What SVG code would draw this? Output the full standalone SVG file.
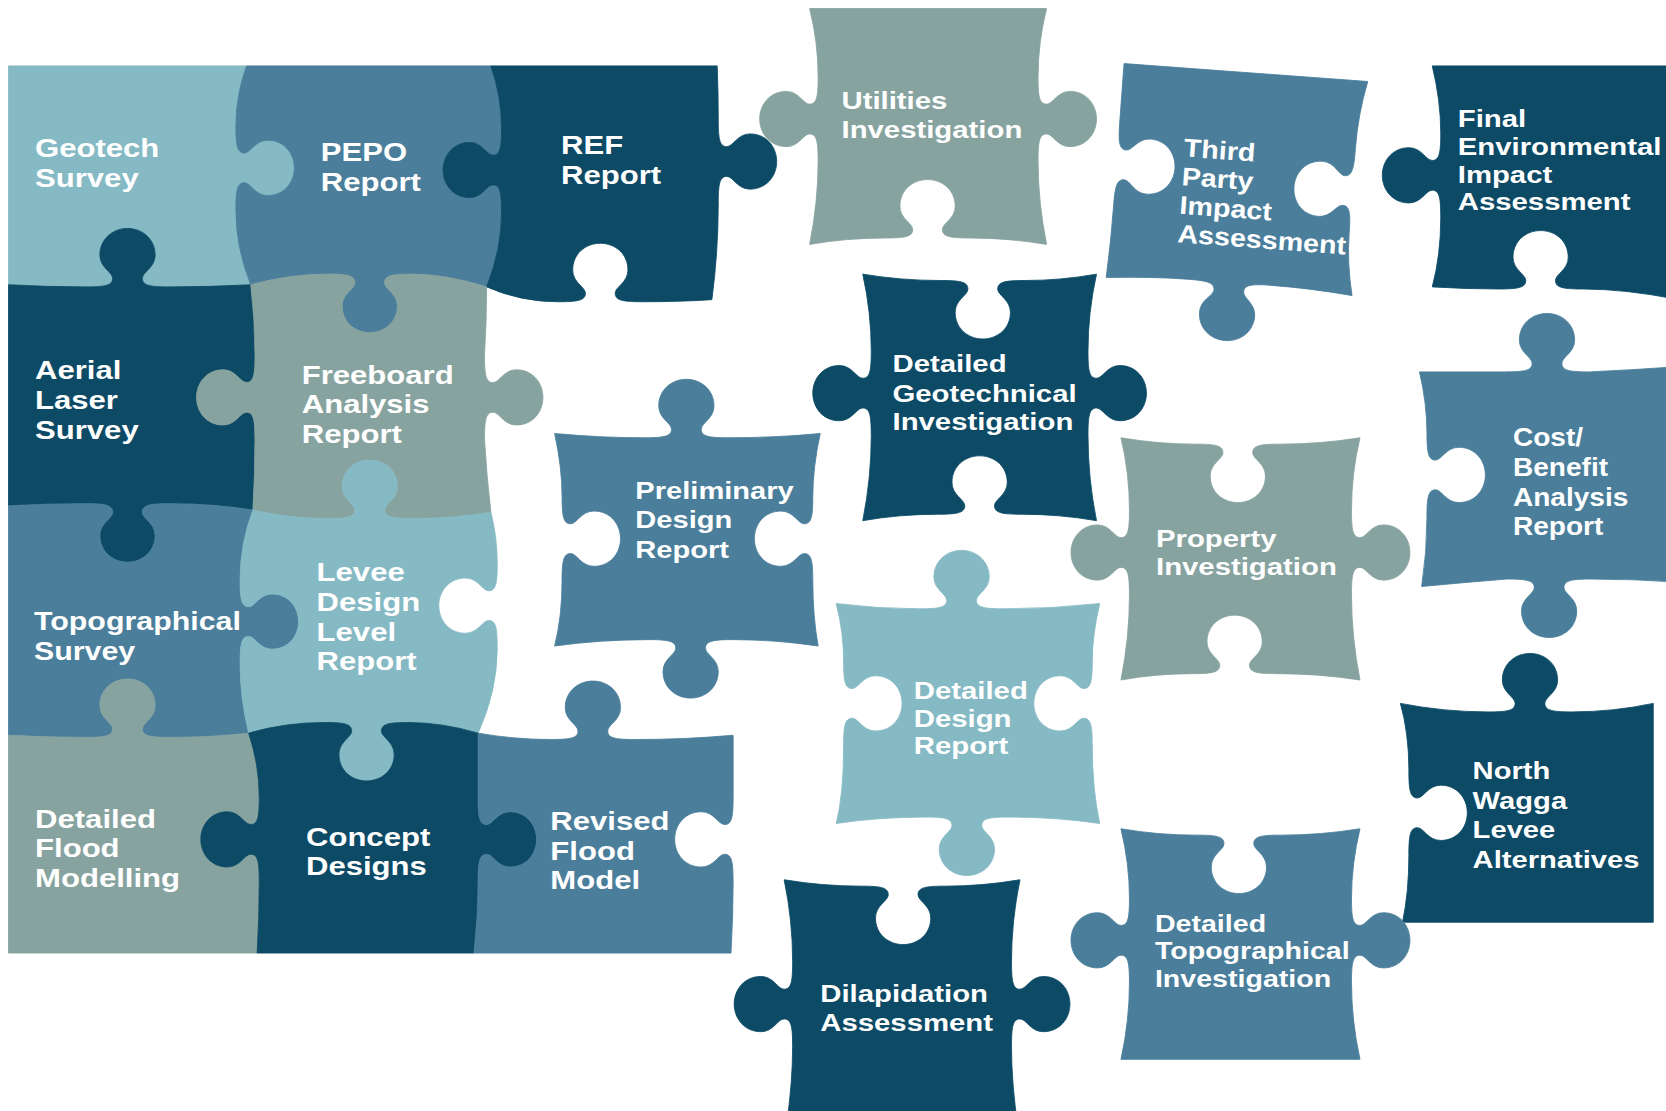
<svg xmlns="http://www.w3.org/2000/svg" width="1666" height="1111" viewBox="0 0 1666 1111">
<style>
.t{font-family:"Liberation Sans",Arial,Helvetica,sans-serif;font-weight:bold;font-size:25px;fill:#ffffff}
.f{font-family:"Liberation Sans",Arial,Helvetica,sans-serif;font-weight:bold;font-size:23px;fill:#ffffff}
path{stroke-width:0.8;stroke-linejoin:round}
.lt{fill:#85b9c4;stroke:#85b9c4}
.mb{fill:#4a7e9b;stroke:#4a7e9b}
.dk{fill:#0c4a65;stroke:#0c4a65}
.gr{fill:#87a39f;stroke:#87a39f}
</style>
<rect width="1666" height="1111" fill="#ffffff"/>
<g transform="scale(1.0625)">
<g id="geotech-survey">
<path class="lt" d="M8,62 L232,62 Q222,90 222,118 c0,18 1,26 8,26 c6,0 10,-12 22,-12 c15,0 25,12 25,26 c0,14 -10,26 -25,26 c-12,0 -16,-12 -22,-12 c-7,0 -8,8 -8,26 Q222,233 236,268 Q198,270 160,270 c-18,0 -26,-1 -26,-8 c0,-6 12,-10 12,-22 c0,-15 -12,-25 -26,-25 c-14,0 -26,10 -26,25 c0,12 12,16 12,22 c0,7 -8,8 -26,8 Q44,270 8,268 Z"/>
<text class="t" transform="translate(33 0) scale(1.17 1) translate(-33 0)"><tspan x="33" y="148">Geotech</tspan><tspan x="33" y="176">Survey</tspan></text>
</g>
<g id="pepo-report">
<path class="mb" d="M232,62 L462,62 Q472,91 472,120 c0,18 -1,26 -8,26 c-6,0 -10,-12 -22,-12 c-15,0 -25,12 -25,26 c0,14 10,26 25,26 c12,0 16,-12 22,-12 c7,0 8,8 8,26 Q472,235 458,270 Q420,258 388,258 c-18,0 -26,1 -26,8 c0,6 12,10 12,22 c0,15 -12,25 -26,25 c-14,0 -26,-10 -26,-25 c0,-12 12,-16 12,-22 c0,-7 -8,-8 -26,-8 Q272,258 236,268 Q222,233 222,198 c0,-18 1,-26 8,-26 c6,0 10,12 22,12 c15,0 25,-12 25,-26 c0,-14 -10,-26 -25,-26 c-12,0 -16,12 -22,12 c-7,0 -8,-8 -8,-26 Q222,90 232,62 Z"/>
<text class="t" transform="translate(302 0) scale(1.17 1) translate(-302 0)"><tspan x="302" y="152">PEPO</tspan><tspan x="302" y="180">Report</tspan></text>
</g>
<g id="ref-report">
<path class="dk" d="M462,62 L675,62 Q676,87 676,112 c0,18 1,26 8,26 c6,0 10,-12 22,-12 c15,0 25,12 25,26 c0,14 -10,26 -25,26 c-12,0 -16,-12 -22,-12 c-7,0 -8,8 -8,26 Q676,237 670,282 Q640,284 605,284 c-18,0 -26,-1 -26,-8 c0,-6 12,-10 12,-22 c0,-15 -12,-25 -26,-25 c-14,0 -26,10 -26,25 c0,12 12,16 12,22 c0,7 -8,8 -26,8 Q490,284 458,270 Q472,235 472,200 c0,-18 -1,-26 -8,-26 c-6,0 -10,12 -22,12 c-15,0 -25,-12 -25,-26 c0,-14 10,-26 25,-26 c12,0 16,12 22,12 c7,0 8,-8 8,-26 Q472,91 462,62 Z"/>
<text class="t" transform="translate(528 0) scale(1.17 1) translate(-528 0)"><tspan x="528" y="145">REF</tspan><tspan x="528" y="173">Report</tspan></text>
</g>
<g id="aerial-laser-survey">
<path class="dk" d="M8,268 Q44,270 80,270 c18,0 26,-1 26,-8 c0,-6 -12,-10 -12,-22 c0,-15 12,-25 26,-25 c14,0 26,10 26,25 c0,12 -12,16 -12,22 c0,7 8,8 26,8 Q198,270 236,268 Q240,301 240,334 c0,18 -1,26 -8,26 c-6,0 -10,-12 -22,-12 c-15,0 -25,12 -25,26 c0,14 10,26 25,26 c12,0 16,-12 22,-12 c7,0 8,8 8,26 Q240,447 238,480 Q200,474 160,474 c-18,0 -26,1 -26,8 c0,6 12,10 12,22 c0,15 -12,25 -26,25 c-14,0 -26,-10 -26,-25 c0,-12 12,-16 12,-22 c0,-7 -8,-8 -26,-8 Q44,474 8,476 Z"/>
<text class="t" transform="translate(33 0) scale(1.17 1) translate(-33 0)"><tspan x="33" y="357">Aerial</tspan><tspan x="33" y="385">Laser</tspan><tspan x="33" y="413">Survey</tspan></text>
</g>
<g id="freeboard-analysis-report">
<path class="gr" d="M236,268 Q272,258 308,258 c18,0 26,1 26,8 c0,6 -12,10 -12,22 c0,15 12,25 26,25 c14,0 26,-10 26,-25 c0,-12 -12,-16 -12,-22 c0,-7 8,-8 26,-8 Q420,258 458,270 Q458,302 456,334 c0,18 1,26 8,26 c6,0 10,-12 22,-12 c15,0 25,12 25,26 c0,14 -10,26 -25,26 c-12,0 -16,-12 -22,-12 c-7,0 -8,8 -8,26 Q458,448 462,482 Q428,488 388,488 c-18,0 -26,-1 -26,-8 c0,-6 12,-10 12,-22 c0,-15 -12,-25 -26,-25 c-14,0 -26,10 -26,25 c0,12 12,16 12,22 c0,7 -8,8 -26,8 Q272,488 238,480 Q240,447 240,414 c0,-18 -1,-26 -8,-26 c-6,0 -10,12 -22,12 c-15,0 -25,-12 -25,-26 c0,-14 10,-26 25,-26 c12,0 16,12 22,12 c7,0 8,-8 8,-26 Q240,301 236,268 Z"/>
<text class="t" transform="translate(284 0) scale(1.17 1) translate(-284 0)"><tspan x="284" y="361">Freeboard</tspan><tspan x="284" y="389">Analysis</tspan><tspan x="284" y="417">Report</tspan></text>
</g>
<g id="topographical-survey">
<path class="mb" d="M8,476 Q44,474 80,474 c18,0 26,1 26,8 c0,6 -12,10 -12,22 c0,15 12,25 26,25 c14,0 26,-10 26,-25 c0,-12 -12,-16 -12,-22 c0,-7 8,-8 26,-8 Q200,474 238,480 Q226,512 226,545 c0,18 1,26 8,26 c6,0 10,-12 22,-12 c15,0 25,12 25,26 c0,14 -10,26 -25,26 c-12,0 -16,-12 -22,-12 c-7,0 -8,8 -8,26 Q226,657 234,690 Q198,694 160,694 c-18,0 -26,-1 -26,-8 c0,-6 12,-10 12,-22 c0,-15 -12,-25 -26,-25 c-14,0 -26,10 -26,25 c0,12 12,16 12,22 c0,7 -8,8 -26,8 Q44,694 8,692 Z"/>
<text class="t" transform="translate(32 0) scale(1.144 1) translate(-32 0)"><tspan x="32" y="593">Topographical</tspan><tspan x="32" y="621">Survey</tspan></text>
</g>
<g id="levee-design-level-report">
<path class="lt" d="M238,480 Q272,488 308,488 c18,0 26,-1 26,-8 c0,-6 -12,-10 -12,-22 c0,-15 12,-25 26,-25 c14,0 26,10 26,25 c0,12 -12,16 -12,22 c0,7 8,8 26,8 Q428,488 462,482 Q468,506 468,530 c0,18 -1,26 -8,26 c-6,0 -10,-12 -22,-12 c-15,0 -25,12 -25,26 c0,14 10,26 25,26 c12,0 16,-12 22,-12 c7,0 8,8 8,26 Q468,650 450,690 Q416,680 385,680 c-18,0 -26,1 -26,8 c0,6 12,10 12,22 c0,15 -12,25 -26,25 c-14,0 -26,-10 -26,-25 c0,-12 12,-16 12,-22 c0,-7 -8,-8 -26,-8 Q268,680 234,690 Q226,657 226,625 c0,-18 1,-26 8,-26 c6,0 10,12 22,12 c15,0 25,-12 25,-26 c0,-14 -10,-26 -25,-26 c-12,0 -16,12 -22,12 c-7,0 -8,-8 -8,-26 Q226,512 238,480 Z"/>
<text class="t" transform="translate(298 0) scale(1.17 1) translate(-298 0)"><tspan x="298" y="547">Levee</tspan><tspan x="298" y="575">Design</tspan><tspan x="298" y="603">Level</tspan><tspan x="298" y="631">Report</tspan></text>
</g>
<g id="detailed-flood-modelling">
<path class="gr" d="M8,692 Q44,694 80,694 c18,0 26,-1 26,-8 c0,-6 -12,-10 -12,-22 c0,-15 12,-25 26,-25 c14,0 26,10 26,25 c0,12 -12,16 -12,22 c0,7 8,8 26,8 Q198,694 234,690 Q244,720 244,750 c0,18 -1,26 -8,26 c-6,0 -10,-12 -22,-12 c-15,0 -25,12 -25,26 c0,14 10,26 25,26 c12,0 16,-12 22,-12 c7,0 8,8 8,26 Q244,863 242,897 L8,897 Z"/>
<text class="t" transform="translate(33 0) scale(1.17 1) translate(-33 0)"><tspan x="33" y="779">Detailed</tspan><tspan x="33" y="807">Flood</tspan><tspan x="33" y="835">Modelling</tspan></text>
</g>
<g id="concept-designs">
<path class="dk" d="M234,690 Q268,680 305,680 c18,0 26,1 26,8 c0,6 -12,10 -12,22 c0,15 12,25 26,25 c14,0 26,-10 26,-25 c0,-12 -12,-16 -12,-22 c0,-7 8,-8 26,-8 Q416,680 450,690 Q450,720 450,750 c0,18 1,26 8,26 c6,0 10,-12 22,-12 c15,0 25,12 25,26 c0,14 -10,26 -25,26 c-12,0 -16,-12 -22,-12 c-7,0 -8,8 -8,26 Q450,863 446,897 L242,897 Q244,863 244,830 c0,-18 -1,-26 -8,-26 c-6,0 -10,12 -22,12 c-15,0 -25,-12 -25,-26 c0,-14 10,-26 25,-26 c12,0 16,12 22,12 c7,0 8,-8 8,-26 Q244,720 234,690 Z"/>
<text class="t" transform="translate(288 0) scale(1.17 1) translate(-288 0)"><tspan x="288" y="796">Concept</tspan><tspan x="288" y="824">Designs</tspan></text>
</g>
<g id="revised-flood-model">
<path class="mb" d="M450,690 Q484,696 518,696 c18,0 26,-1 26,-8 c0,-6 -12,-10 -12,-22 c0,-15 12,-25 26,-25 c14,0 26,10 26,25 c0,12 -12,16 -12,22 c0,7 8,8 26,8 Q645,696 690,692 Q690,721 690,750 c0,18 -1,26 -8,26 c-6,0 -10,-12 -22,-12 c-15,0 -25,12 -25,26 c0,14 10,26 25,26 c12,0 16,-12 22,-12 c7,0 8,8 8,26 Q690,863 688,897 L446,897 Q450,863 450,830 c0,-18 1,-26 8,-26 c6,0 10,12 22,12 c15,0 25,-12 25,-26 c0,-14 -10,-26 -25,-26 c-12,0 -16,12 -22,12 c-7,0 -8,-8 -8,-26 Q450,720 450,690 Z"/>
<text class="t" transform="translate(518 0) scale(1.17 1) translate(-518 0)"><tspan x="518" y="781">Revised</tspan><tspan x="518" y="809">Flood</tspan><tspan x="518" y="837">Model</tspan></text>
</g>
<g id="utilities-investigation">
<path class="gr" d="M762,8 L985,8 Q977,40 977,72 c0,18 1,26 8,26 c6,0 10,-12 22,-12 c15,0 25,12 25,26 c0,14 -10,26 -25,26 c-12,0 -16,-12 -22,-12 c-7,0 -8,8 -8,26 Q977,190 985,230 Q949,224 913,224 c-18,0 -26,-1 -26,-8 c0,-6 12,-10 12,-22 c0,-15 -12,-25 -26,-25 c-14,0 -26,10 -26,25 c0,12 12,16 12,22 c0,7 -8,8 -26,8 Q797,224 762,230 Q770,190 770,152 c0,-18 -1,-26 -8,-26 c-6,0 -10,12 -22,12 c-15,0 -25,-12 -25,-26 c0,-14 10,-26 25,-26 c12,0 16,12 22,12 c7,0 8,-8 8,-26 Q770,40 762,8 Z"/>
<text class="f" transform="translate(792 0) scale(1.2 1) translate(-792 0)"><tspan x="792" y="103">Utilities</tspan><tspan x="792" y="130">Investigation</tspan></text>
</g>
<g id="third-party-impact-assessment" transform="rotate(4.2 1165 172)">
<path class="mb" d="M1050,68 L1280,68 Q1273,100 1273,132 c0,18 -1,26 -8,26 c-6,0 -10,-12 -22,-12 c-15,0 -25,12 -25,26 c0,14 10,26 25,26 c12,0 16,-12 22,-12 c7,0 8,8 8,26 Q1273,240 1280,270 Q1240,266 1204,266 c-18,0 -26,1 -26,8 c0,6 12,10 12,22 c0,15 -12,25 -26,25 c-14,0 -26,-10 -26,-25 c0,-12 12,-16 12,-22 c0,-7 -8,-8 -26,-8 Q1090,266 1048,270 Q1050,235 1050,203 c0,-18 1,-26 8,-26 c6,0 10,12 22,12 c15,0 25,-12 25,-26 c0,-14 -10,-26 -25,-26 c-12,0 -16,12 -22,12 c-7,0 -8,-8 -8,-26 Q1050,95 1050,68 Z"/>
<text class="f" style="font-size:24px" transform="translate(1112 0) scale(1.125 1) translate(-1112 0)"><tspan x="1112" y="151">Third</tspan><tspan x="1112" y="178">Party</tspan><tspan x="1112" y="205">Impact</tspan><tspan x="1112" y="232">Assessment</tspan></text>
</g>
<g id="final-environmental-impact-assessment">
<path class="dk" d="M1348,62 L1580,62 L1580,282 Q1530,272 1490,272 c-18,0 -26,-1 -26,-8 c0,-6 12,-10 12,-22 c0,-15 -12,-25 -26,-25 c-14,0 -26,10 -26,25 c0,12 12,16 12,22 c0,7 -8,8 -26,8 Q1380,272 1348,270 Q1356,240 1356,205 c0,-18 -1,-26 -8,-26 c-6,0 -10,12 -22,12 c-15,0 -25,-12 -25,-26 c0,-14 10,-26 25,-26 c12,0 16,12 22,12 c7,0 8,-8 8,-26 Q1356,95 1348,62 Z"/>
<text class="f" transform="translate(1372 0) scale(1.2 1) translate(-1372 0)"><tspan x="1372" y="120">Final</tspan><tspan x="1372" y="146">Environmental</tspan><tspan x="1372" y="172">Impact</tspan><tspan x="1372" y="198">Assessment</tspan></text>
</g>
<g id="detailed-geotechnical-investigation">
<path class="dk" d="M812,258 Q848,264 885,264 c18,0 26,1 26,8 c0,6 -12,10 -12,22 c0,15 12,25 26,25 c14,0 26,-10 26,-25 c0,-12 -12,-16 -12,-22 c0,-7 8,-8 26,-8 Q998,264 1032,258 Q1024,294 1024,330 c0,18 1,26 8,26 c6,0 10,-12 22,-12 c15,0 25,12 25,26 c0,14 -10,26 -25,26 c-12,0 -16,-12 -22,-12 c-7,0 -8,8 -8,26 Q1024,450 1032,490 Q997,484 962,484 c-18,0 -26,-1 -26,-8 c0,-6 12,-10 12,-22 c0,-15 -12,-25 -26,-25 c-14,0 -26,10 -26,25 c0,12 12,16 12,22 c0,7 -8,8 -26,8 Q847,484 812,490 Q820,450 820,410 c0,-18 -1,-26 -8,-26 c-6,0 -10,12 -22,12 c-15,0 -25,-12 -25,-26 c0,-14 10,-26 25,-26 c12,0 16,12 22,12 c7,0 8,-8 8,-26 Q820,294 812,258 Z"/>
<text class="f" transform="translate(840 0) scale(1.2 1) translate(-840 0)"><tspan x="840" y="350">Detailed</tspan><tspan x="840" y="378">Geotechnical</tspan><tspan x="840" y="405">Investigation</tspan></text>
</g>
<g id="cost-benefit-analysis-report">
<path class="mb" d="M1336,350 Q1376,350 1416,350 c18,0 26,-1 26,-8 c0,-6 -12,-10 -12,-22 c0,-15 12,-25 26,-25 c14,0 26,10 26,25 c0,12 -12,16 -12,22 c0,7 8,8 26,8 Q1540,348 1580,345 L1580,548 Q1540,545 1498,545 c-18,0 -26,1 -26,8 c0,6 12,10 12,22 c0,15 -12,25 -26,25 c-14,0 -26,-10 -26,-25 c0,-12 12,-16 12,-22 c0,-7 -8,-8 -26,-8 Q1380,548 1338,552 Q1343,520 1343,487 c0,-18 1,-26 8,-26 c6,0 10,12 22,12 c15,0 25,-12 25,-26 c0,-14 -10,-26 -25,-26 c-12,0 -16,12 -22,12 c-7,0 -8,-8 -8,-26 Q1343,380 1336,350 Z"/>
<text class="f" style="font-size:24px" transform="translate(1424 0) scale(1.1 1) translate(-1424 0)"><tspan x="1424" y="420">Cost/</tspan><tspan x="1424" y="448">Benefit</tspan><tspan x="1424" y="476">Analysis</tspan><tspan x="1424" y="504">Report</tspan></text>
</g>
<g id="preliminary-design-report">
<path class="mb" d="M522,408 Q565,412 606,412 c18,0 26,-1 26,-8 c0,-6 -12,-10 -12,-22 c0,-15 12,-25 26,-25 c14,0 26,10 26,25 c0,12 -12,16 -12,22 c0,7 8,8 26,8 Q730,412 772,408 Q765,440 765,467 c0,18 -1,26 -8,26 c-6,0 -10,-12 -22,-12 c-15,0 -25,12 -25,26 c0,14 10,26 25,26 c12,0 16,-12 22,-12 c7,0 8,8 8,26 Q765,580 770,608 Q730,602 690,602 c-18,0 -26,1 -26,8 c0,6 12,10 12,22 c0,15 -12,25 -26,25 c-14,0 -26,-10 -26,-25 c0,-12 12,-16 12,-22 c0,-7 -8,-8 -26,-8 Q565,602 522,608 Q529,580 529,547 c0,-18 1,-26 8,-26 c6,0 10,12 22,12 c15,0 25,-12 25,-26 c0,-14 -10,-26 -25,-26 c-12,0 -16,12 -22,12 c-7,0 -8,-8 -8,-26 Q529,440 522,408 Z"/>
<text class="f" transform="translate(598 0) scale(1.19 1) translate(-598 0)"><tspan x="598" y="470">Preliminary</tspan><tspan x="598" y="497">Design</tspan><tspan x="598" y="525">Report</tspan></text>
</g>
<g id="property-investigation">
<path class="gr" d="M1055,412 Q1090,418 1125,418 c18,0 26,1 26,8 c0,6 -12,10 -12,22 c0,15 12,25 26,25 c14,0 26,-10 26,-25 c0,-12 -12,-16 -12,-22 c0,-7 8,-8 26,-8 Q1243,418 1280,412 Q1272,445 1272,480 c0,18 1,26 8,26 c6,0 10,-12 22,-12 c15,0 25,12 25,26 c0,14 -10,26 -25,26 c-12,0 -16,-12 -22,-12 c-7,0 -8,8 -8,26 Q1272,600 1280,640 Q1241,634 1202,634 c-18,0 -26,-1 -26,-8 c0,-6 12,-10 12,-22 c0,-15 -12,-25 -26,-25 c-14,0 -26,10 -26,25 c0,12 12,16 12,22 c0,7 -8,8 -26,8 Q1088,634 1055,640 Q1063,600 1063,560 c0,-18 -1,-26 -8,-26 c-6,0 -10,12 -22,12 c-15,0 -25,-12 -25,-26 c0,-14 10,-26 25,-26 c12,0 16,12 22,12 c7,0 8,-8 8,-26 Q1063,445 1055,412 Z"/>
<text class="f" transform="translate(1088 0) scale(1.2 1) translate(-1088 0)"><tspan x="1088" y="515">Property</tspan><tspan x="1088" y="541">Investigation</tspan></text>
</g>
<g id="detailed-design-report">
<path class="lt" d="M787,568 Q826,573 865,573 c18,0 26,-1 26,-8 c0,-6 -12,-10 -12,-22 c0,-15 12,-25 26,-25 c14,0 26,10 26,25 c0,12 -12,16 -12,22 c0,7 8,8 26,8 Q990,573 1035,568 Q1028,598 1028,622 c0,18 -1,26 -8,26 c-6,0 -10,-12 -22,-12 c-15,0 -25,12 -25,26 c0,14 10,26 25,26 c12,0 16,-12 22,-12 c7,0 8,8 8,26 Q1028,742 1035,775 Q993,769 950,769 c-18,0 -26,1 -26,8 c0,6 12,10 12,22 c0,15 -12,25 -26,25 c-14,0 -26,-10 -26,-25 c0,-12 12,-16 12,-22 c0,-7 -8,-8 -26,-8 Q828,769 787,775 Q794,748 794,702 c0,-18 1,-26 8,-26 c6,0 10,12 22,12 c15,0 25,-12 25,-26 c0,-14 -10,-26 -25,-26 c-12,0 -16,12 -22,12 c-7,0 -8,-8 -8,-26 Q794,595 787,568 Z"/>
<text class="f" transform="translate(860 0) scale(1.2 1) translate(-860 0)"><tspan x="860" y="658">Detailed</tspan><tspan x="860" y="684">Design</tspan><tspan x="860" y="710">Report</tspan></text>
</g>
<g id="north-wagga-levee-alternatives">
<path class="dk" d="M1318,662 Q1359,670 1400,670 c18,0 26,-1 26,-8 c0,-6 -12,-10 -12,-22 c0,-15 12,-25 26,-25 c14,0 26,10 26,25 c0,12 -12,16 -12,22 c0,7 8,8 26,8 Q1518,670 1556,662 L1556,868 L1320,868 Q1326,840 1326,805 c0,-18 1,-26 8,-26 c6,0 10,12 22,12 c15,0 25,-12 25,-26 c0,-14 -10,-26 -25,-26 c-12,0 -16,12 -22,12 c-7,0 -8,-8 -8,-26 Q1326,690 1318,662 Z"/>
<text class="f" style="font-size:22.5px" transform="translate(1386 0) scale(1.22 1) translate(-1386 0)"><tspan x="1386" y="733">North</tspan><tspan x="1386" y="761">Wagga</tspan><tspan x="1386" y="789">Levee</tspan><tspan x="1386" y="817">Alternatives</tspan></text>
</g>
<g id="detailed-topographical-investigation">
<path class="mb" d="M1055,780 Q1090,786 1126,786 c18,0 26,1 26,8 c0,6 -12,10 -12,22 c0,15 12,25 26,25 c14,0 26,-10 26,-25 c0,-12 -12,-16 -12,-22 c0,-7 8,-8 26,-8 Q1243,786 1280,780 Q1272,813 1272,845 c0,18 1,26 8,26 c6,0 10,-12 22,-12 c15,0 25,12 25,26 c0,14 -10,26 -25,26 c-12,0 -16,-12 -22,-12 c-7,0 -8,8 -8,26 Q1272,961 1280,997 L1055,997 Q1063,961 1063,925 c0,-18 -1,-26 -8,-26 c-6,0 -10,12 -22,12 c-15,0 -25,-12 -25,-26 c0,-14 10,-26 25,-26 c12,0 16,12 22,12 c7,0 8,-8 8,-26 Q1063,813 1055,780 Z"/>
<text class="f" transform="translate(1087 0) scale(1.17 1) translate(-1087 0)"><tspan x="1087" y="877">Detailed</tspan><tspan x="1087" y="903">Topographical</tspan><tspan x="1087" y="929">Investigation</tspan></text>
</g>
<g id="dilapidation-assessment">
<path class="dk" d="M738,828 Q774,834 810,834 c18,0 26,1 26,8 c0,6 -12,10 -12,22 c0,15 12,25 26,25 c14,0 26,-10 26,-25 c0,-12 -12,-16 -12,-22 c0,-7 8,-8 26,-8 Q925,834 960,828 Q952,866 952,905 c0,18 1,26 8,26 c6,0 10,-12 22,-12 c15,0 25,12 25,26 c0,14 -10,26 -25,26 c-12,0 -16,-12 -22,-12 c-7,0 -8,8 -8,26 Q952,1020 958,1060 L740,1060 Q746,1020 746,985 c0,-18 -1,-26 -8,-26 c-6,0 -10,12 -22,12 c-15,0 -25,-12 -25,-26 c0,-14 10,-26 25,-26 c12,0 16,12 22,12 c7,0 8,-8 8,-26 Q746,866 738,828 Z"/>
<text class="f" transform="translate(772 0) scale(1.2 1) translate(-772 0)"><tspan x="772" y="943">Dilapidation</tspan><tspan x="772" y="970">Assessment</tspan></text>
</g>
</g>
</svg>
